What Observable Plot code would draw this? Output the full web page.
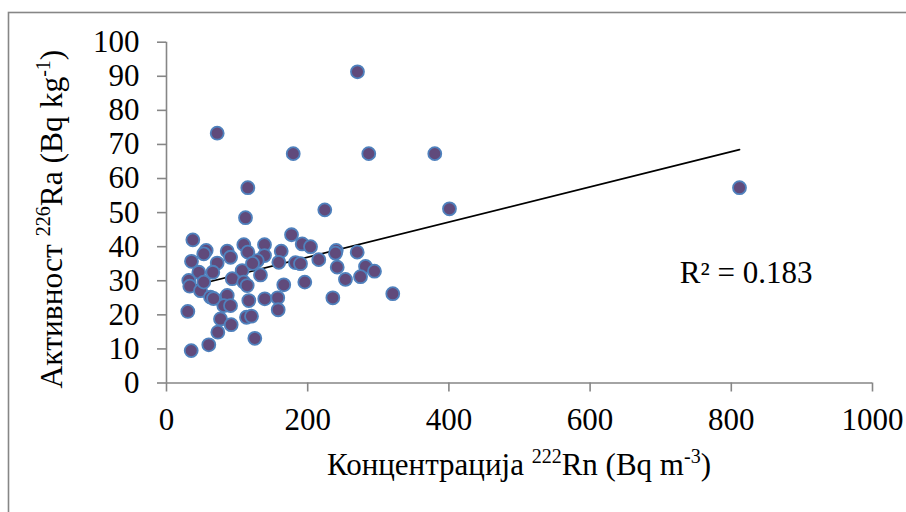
<!DOCTYPE html>
<html>
<head>
<meta charset="utf-8">
<script src="https://cdn.jsdelivr.net/npm/d3@7"></script>
<script src="https://cdn.jsdelivr.net/npm/@observablehq/plot@0.6"></script>
<style>
  body { margin: 0; background: #fff; }
  #chart svg { display: block; }
</style>
</head>
<body>
<div id="chart"></div>
<script>
// 222Rn concentration (Bq m-3)
const rnConc = [
  270.5, 71.8, 179.5, 286.5, 380.0, 115.2, 811.6, 400.8, 224.2, 111.9,
  37.3, 56.2, 52.8, 86.0, 90.7, 109.5, 115.2, 138.8, 138.8, 128.5,
  162.5, 159.1, 177.1, 192.2, 182.7, 35.4, 71.8, 45.8, 65.6, 107.2,
  31.6, 33.0, 48.2, 93.1, 109.5, 114.3, 133.1, 166.1, 195.9, 62.3,
  78.9, 86.0, 81.2, 90.7, 116.6, 139.2, 157.6, 158.2, 30.2, 76.5,
  91.6, 113.3, 120.4, 72.7, 59.9, 125.1, 35.0, 204.0, 240.4, 239.4,
  270.1, 189.8, 215.7, 241.8, 281.9, 294.6, 253.5, 274.8, 235.6, 320.5,
  52.8, 121.8, 66.6
];
// 226Ra activity (Bq kg-1)
const raAct = [
  91.3, 73.3, 67.3, 67.3, 67.3, 57.3, 57.3, 51.1, 50.8, 48.5,
  42.0, 38.9, 37.9, 38.7, 36.9, 40.6, 38.4, 40.6, 37.4, 35.9,
  38.7, 35.4, 43.5, 40.8, 35.3, 35.7, 35.2, 32.5, 32.5, 33.0,
  30.1, 28.4, 27.1, 30.6, 29.6, 28.6, 31.7, 28.8, 29.6, 25.2,
  24.2, 25.7, 22.7, 22.7, 24.2, 24.7, 25.0, 21.5, 21.0, 18.8,
  17.1, 19.3, 19.6, 14.9, 11.2, 13.1, 9.5, 40.0, 38.9, 38.1,
  38.4, 35.0, 36.2, 34.0, 34.2, 32.8, 30.4, 31.2, 25.0, 26.2,
  29.6, 35.1, 24.8
];
const xTicks = [0, 200, 400, 600, 800, 1000];
const yTicks = [0, 10, 20, 30, 40, 50, 60, 70, 80, 90, 100];
// linear trend line end points
const trendX = [29.3, 811.6];
const trendY = [28.1, 68.5];
const r2Text = ["R² = 0.183"];
const r2X = [727];
const r2Y = [32.4];

const points = rnConc.map((x, i) => ({ x, y: raAct[i] }));
const trend = trendX.map((x, i) => ({ x, y: trendY[i] }));
const r2 = r2Text.map((t, i) => ({ t, x: r2X[i], y: r2Y[i] }));

const serif = "'Liberation Serif', 'Times New Roman', serif";
const gray = "#868686";

const chart = Plot.plot({
  width: 906,
  height: 512,
  marginLeft: 166,
  marginRight: 34,
  marginTop: 41.7,
  marginBottom: 129.5,
  style: { fontFamily: serif, fontSize: "31px", color: "black", background: "white", overflow: "visible" },
  x: { domain: [0, 1000] },
  y: { domain: [0, 100] },
  marks: [
    Plot.ruleY([0], { stroke: gray, strokeWidth: 1.6 }),
    Plot.ruleX([0], { stroke: gray, strokeWidth: 1.6 }),
    Plot.axisX({ ticks: xTicks, tickSize: 9, tickPadding: 16, stroke: gray, strokeWidth: 1.6, fill: "black",
      fontSize: 31, label: null, tickFormat: d3.format("d") }),
    Plot.axisY({ ticks: yTicks, tickSize: 9, tickPadding: 18, stroke: gray, strokeWidth: 1.6, fill: "black",
      fontSize: 31, label: null, tickFormat: d3.format("d") }),
    Plot.line(trend, { x: "x", y: "y", stroke: "black", strokeWidth: 1.7 }),
    Plot.dot(points, { x: "x", y: "y", r: 6.5, fill: "#604A7B", stroke: "#4F81BD", strokeWidth: 1.8 }),
    Plot.text(r2, { x: "x", y: "y", text: "t", textAnchor: "start", fontSize: 31, fill: "black" })
  ]
});

document.getElementById("chart").appendChild(chart);

const svg = d3.select(chart);
const xs = chart.scale("x"), ys = chart.scale("y");

// outer chart-area border (only left and top visible in the crop)
svg.insert("rect", ":first-child")
  .attr("x", 8.5).attr("y", 12.5).attr("width", 1000).attr("height", 1000)
  .attr("fill", "none").attr("stroke", gray).attr("stroke-width", 1.6);

function titled(sel, parts) {
  parts.forEach(([s, sup]) => {
    const t = sel.append("tspan").text(s);
    if (sup === 1) t.attr("font-size", 20).attr("dy", -12);
    if (sup === -1) t.attr("dy", 12);
  });
}

// x axis title
const xt = svg.append("text")
  .attr("x", (xs.apply(0) + xs.apply(1000)) / 2)
  .attr("y", 475)
  .attr("text-anchor", "middle")
  .attr("font-family", serif).attr("font-size", 31).attr("fill", "black");
titled(xt, [["Концентрација ", 0], ["222", 1], ["Rn (Bq m", -1], ["-3", 1], [")", -1]]);

// y axis title
const yt = svg.append("text")
  .attr("transform", `translate(61.7, ${(ys.apply(0) + ys.apply(100)) / 2 + 7}) rotate(-90)`)
  .attr("text-anchor", "middle")
  .attr("font-family", serif).attr("font-size", 31.5).attr("fill", "black");
titled(yt, [["Активност ", 0], ["226", 1], ["Ra (Bq kg", -1], ["-1", 1], [")", -1]]);
</script>
</body>
</html>
